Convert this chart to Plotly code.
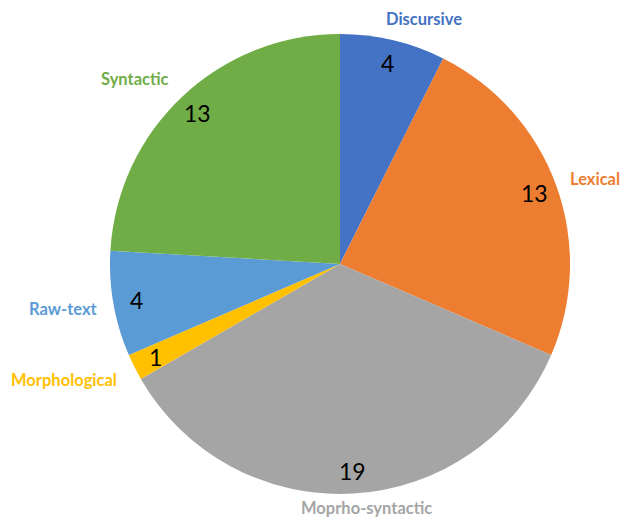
import math
import plotly.graph_objects as go

# Categories and counts, clockwise from 12 o'clock
categories = ["Discursive", "Lexical", "Moprho-syntactic", "Morphological", "Raw-text", "Syntactic"]
counts = [4, 13, 19, 1, 4, 13]
colors = ["#4472C4", "#ED7D31", "#A5A5A5", "#FFC000", "#5B9BD5", "#70AD47"]

W, H = 620, 524
CX, CY, R = 340, 264, 230  # pie centre and radius in pixels (from top-left)

# Category label anchors (pixels from top-left)
label_pos = {
    "Discursive": (424, 19),
    "Lexical": (595, 179),
    "Moprho-syntactic": (366, 508),
    "Morphological": (64, 380),
    "Raw-text": (63, 309),
    "Syntactic": (135, 79),
}

fig = go.Figure(
    go.Pie(
        labels=categories,
        values=counts,
        marker=dict(colors=colors, line=dict(width=0)),
        sort=False,
        direction="clockwise",
        rotation=0,
        textinfo="none",
        hoverinfo="label+value",
        showlegend=False,
        domain=dict(
            x=[(CX - R) / W, (CX + R) / W],
            y=[(H - CY - R) / H, (H - CY + R) / H],
        ),
    )
)

annotations = []
total = sum(counts)
cum = 0
for cat, val, col in zip(categories, counts, colors):
    mid = (cum + val / 2) / total * 2 * math.pi
    cum += val
    r_lab = 0.9 * R
    px = CX + r_lab * math.sin(mid)
    py = CY - r_lab * math.cos(mid)
    annotations.append(dict(
        x=px / W, y=1 - py / H, xref="paper", yref="paper",
        text=str(val), showarrow=False,
        font=dict(family="Lato, Carlito, sans-serif", size=23, color="#000000"),
        xanchor="center", yanchor="middle",
    ))
    lx, ly = label_pos[cat]
    annotations.append(dict(
        x=lx / W, y=1 - ly / H, xref="paper", yref="paper",
        text=f"<b>{cat}</b>", showarrow=False,
        font=dict(family="Lato, Carlito, sans-serif", size=16.5, color=col),
        xanchor="center", yanchor="middle",
    ))

fig.update_layout(
    width=W, height=H,
    margin=dict(l=0, r=0, t=0, b=0),
    paper_bgcolor="white",
    plot_bgcolor="white",
    annotations=annotations,
)

fig.write_html("out.html")
